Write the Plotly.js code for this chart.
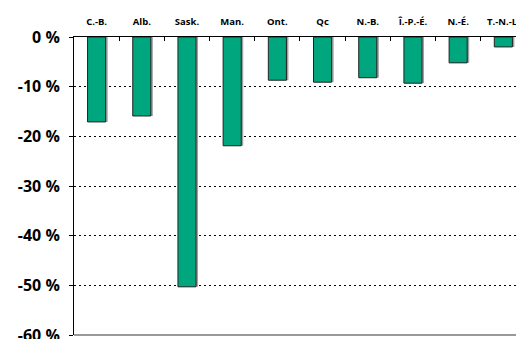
<!DOCTYPE html>
<html><head><meta charset="utf-8">
<script src="https://cdn.plot.ly/plotly-3.0.1.min.js"></script>
<style>html,body{margin:0;padding:0;background:#fff}#c{width:516px;height:339px}</style>
</head><body><div id="c"></div>
<script>
const provinces = ["C.-B.","Alb.","Sask.","Man.","Ont.","Qc","N.-B.","Î.-P.-É.","N.-É.","T.-N.-L."];
const changes = [-17.1,-15.9,-50.3,-21.9,-8.7,-9.1,-8.2,-9.3,-5.2,-2.0];
const yTicks = [0,-10,-20,-30,-40,-50,-60];
const yTickLabels = ["0 %","-10 %","-20 %","-30 %","-40 %","-50 %","-60 %"];

const shadow = {
  type:'bar', x:provinces, y:changes, width:0.4, offset:-0.2+0.045,
  marker:{color:'#a0a0a0', line:{width:0}}, hoverinfo:'skip', showlegend:false
};
const bars = {
  type:'bar', x:provinces, y:changes, width:0.4, offset:-0.2,
  marker:{color:'#00A67E', line:{color:'#222', width:1}}, showlegend:false
};
const layout = {
  width:516, height:339,
  margin:{l:74, r:0, t:37, b:4},
  paper_bgcolor:'#fff', plot_bgcolor:'#fff',
  barmode:'overlay',
  xaxis:{
    type:'category', side:'top', range:[-0.5, 9.28],
    showline:true, linecolor:'#000', linewidth:1,
    ticks:'inside', ticklen:4, tickcolor:'#000', tickson:'boundaries',
    showgrid:false, zeroline:false, ticklabelstandoff:7, ticklabeloverflow:'allow',
    tickfont:{family:'Open Sans, sans-serif', size:9.5, color:'#000', weight:'bold'}
  },
  yaxis:{
    range:[-60,0], tickvals:yTicks, ticktext:yTickLabels,
    showline:true, linecolor:'#000', linewidth:1,
    ticks:'outside', ticklen:4, tickcolor:'#000', ticklabelstandoff:6, ticklabeloverflow:'allow',
    showgrid:true, gridcolor:'#000', gridwidth:1, griddash:'2px,3px',
    zeroline:false,
    tickfont:{family:'Open Sans, sans-serif', size:16, color:'#000', weight:'bold'}
  },
  shapes:[{type:'line', layer:'below', xref:'paper', yref:'paper', x0:0, x1:1, y0:0, y1:0, line:{color:'#999', width:2}}]
};
Plotly.newPlot('c',[shadow,bars],layout,{displayModeBar:false,staticPlot:true});
</script></body></html>
